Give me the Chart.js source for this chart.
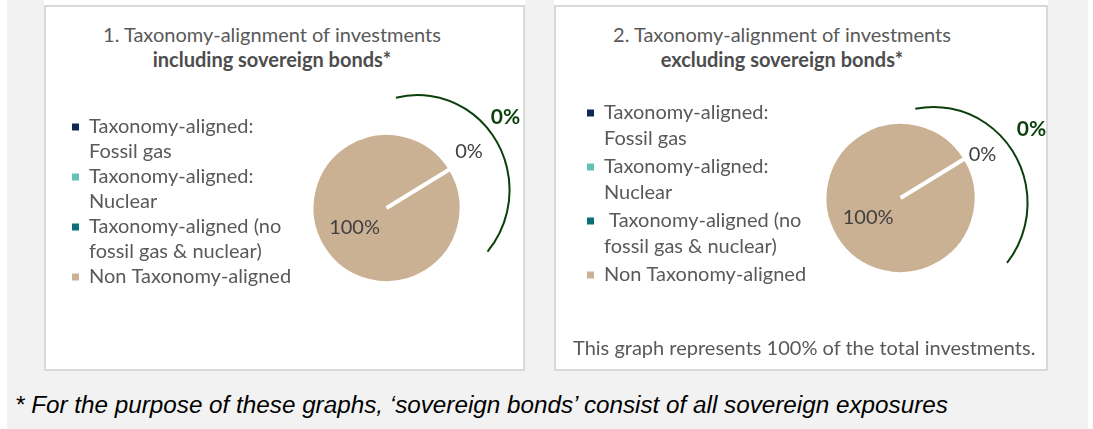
<!DOCTYPE html>
<html>
<head>
<meta charset="utf-8">
<script src="https://cdn.jsdelivr.net/npm/chart.js@4.4.1/dist/chart.umd.min.js"></script>
<style>
  html, body { margin:0; padding:0; background:#ffffff; width:1093px; height:429px; overflow:hidden; }
  #bg { position:absolute; left:7px; top:0; width:1081px; height:429px; background:#f2f2f2; }
  .panel { position:absolute; top:5px; height:366px; background:#ffffff; box-sizing:border-box; border:2px solid #d9d9d9; }
  .cap { position:absolute; top:0; height:5px; background:#ffffff; }
  canvas { position:absolute; }
  .title { position:absolute; width:400px; text-align:center; font-family:Lato, sans-serif; font-size:20px; line-height:25px; color:#595959; }
  .title b { color:#4d4d4d; }
  .note { position:absolute; font-family:Lato, sans-serif; font-size:20px; line-height:25px; color:#595959; white-space:nowrap; }
  #foot { position:absolute; left:15px; top:391px; font-family:"Liberation Sans", Arial, sans-serif; font-style:italic; font-size:24.25px; line-height:28px; color:#000; white-space:nowrap; }
</style>
</head>
<body>
<div id="bg"></div>
<div class="cap" style="left:44px;width:481px"></div>
<div class="cap" style="left:554px;width:494px"></div>
<div class="panel" style="left:44px;width:481px"></div>
<div class="panel" style="left:554px;width:494px"></div>
<div class="title" style="left:72px;top:22px">1. Taxonomy-alignment of investments<br><b>including sovereign bonds*</b></div>
<div class="title" style="left:582px;top:22px">2. Taxonomy-alignment of investments<br><b>excluding sovereign bonds*</b></div>
<canvas id="c1" width="481" height="366" style="left:44px;top:5px"></canvas>
<canvas id="c2" width="494" height="366" style="left:554px;top:5px"></canvas>
<div class="note" id="note" style="left:573px;top:335px">This graph represents 100% of the total investments.</div>
<div id="foot">* For the purpose of these graphs, ‘sovereign bonds’ consist of all sovereign exposures</div>
<script>
// ---- data ----
const categories1 = [
  ["Taxonomy-aligned:", "Fossil gas"],
  ["Taxonomy-aligned:", "Nuclear"],
  ["Taxonomy-aligned (no", "fossil gas & nuclear)"],
  "Non Taxonomy-aligned"
];
const categories2 = [
  ["Taxonomy-aligned:", "Fossil gas"],
  ["Taxonomy-aligned:", "Nuclear"],
  [" Taxonomy-aligned (no", "fossil gas & nuclear)"],
  "Non Taxonomy-aligned"
];
const valuesInclSovereign = [0, 0, 0, 100];
const valuesExclSovereign = [0, 0, 0, 100];
const alignedIndices = [0, 1, 2];

// ---- styles ----
const sliceColors = ["#0e2a52", "#62c2b5", "#0b6e78", "#cbb194"];
const labelColor = "#404040";
const greenColor = "#0b3f0b";

Chart.defaults.font.family = "Lato, sans-serif";
const baseGenerate = Chart.overrides.pie.plugins.legend.labels.generateLabels;

const pieLabelsPlugin = {
  id: "pieLabels",
  afterDatasetsDraw(chart) {
    const cfg = chart.options.plugins.pieLabels;
    const meta = chart.getDatasetMeta(0);
    const values = chart.data.datasets[0].data;
    const ctx = chart.ctx;
    ctx.save();
    ctx.textAlign = "center";
    ctx.textBaseline = "middle";
    ctx.font = "20px Lato, sans-serif";
    ctx.fillStyle = labelColor;
    const drawn = new Set();
    meta.data.forEach((arc, i) => {
      const v = values[i];
      let x, y;
      if (v === 0) {
        const a = arc.startAngle + cfg.zeroAngleShift * Math.PI / 180;
        x = arc.x + Math.cos(a) * cfg.zeroDist;
        y = arc.y + Math.sin(a) * cfg.zeroDist;
      } else {
        const p = arc.tooltipPosition();
        x = p.x; y = p.y;
      }
      const key = Math.round(x) + "," + Math.round(y);
      if (drawn.has(key)) return;
      drawn.add(key);
      ctx.fillText(v + "%", x, y);
    });
    // bracket arc showing the total taxonomy-aligned share
    const c = meta.data[0];
    const ax = c.x + cfg.arcDx, ay = c.y + cfg.arcDy;
    ctx.strokeStyle = greenColor;
    ctx.lineWidth = 2;
    ctx.beginPath();
    ctx.ellipse(ax, ay, cfg.arcRx, cfg.arcRy, 0, cfg.arcStart * Math.PI / 180, cfg.arcEnd * Math.PI / 180);
    ctx.stroke();
    const total = alignedIndices.reduce((s, k) => s + values[k], 0);
    ctx.font = "bold 21px Lato, sans-serif";
    ctx.fillStyle = greenColor;
    ctx.fillText(total + "%", ax + cfg.totalDx, ay + cfg.totalDy);
    ctx.restore();
  }
};

function makeChart(id, labels, values, lay, deco) {
  return new Chart(document.getElementById(id), {
    type: "pie",
    data: {
      labels: labels,
      datasets: [{
        data: values,
        backgroundColor: sliceColors,
        borderColor: "#ffffff",
        borderWidth: [0, 0, 0, 4],
        radius: lay.radius
      }]
    },
    options: {
      responsive: false,
      devicePixelRatio: 1,
      animation: false,
      rotation: 58.5,
      layout: { padding: lay.padding },
      plugins: {
        tooltip: { enabled: false },
        legend: {
          position: "left",
          align: "start",
          maxWidth: 320,
          labels: {
            boxWidth: 7,
            boxHeight: 7,
            padding: lay.legendPadding,
            color: "#595959",
            font: { size: 20, lineHeight: lay.lineHeight },
            generateLabels(chart) {
              return baseGenerate(chart).map(it => Object.assign(it, { lineWidth: 0, strokeStyle: it.fillStyle }));
            }
          }
        },
        pieLabels: deco
      }
    },
    plugins: [pieLabelsPlugin]
  });
}

makeChart("c1", categories1, valuesInclSovereign,
  { radius: 75, padding: { left: 28, top: 112, right: 53, bottom: 72 }, legendPadding: 0, lineHeight: 25 / 20 },
  { zeroDist: 100, zeroAngleShift: -3, arcDx: 31, arcDy: -18, arcRx: 92, arcRy: 95, arcStart: -103.6, arcEnd: 40.5, totalDx: 88, totalDy: -73 });

makeChart("c2", categories2, valuesExclSovereign,
  { radius: 76, padding: { left: 30, top: 95, right: 63, bottom: 75 }, legendPadding: 3, lineHeight: 25.5 / 20 },
  { zeroDist: 93, zeroAngleShift: 3.3, arcDx: 33, arcDy: 5, arcRx: 94, arcRy: 96, arcStart: -101.2, arcEnd: 38.6, totalDx: 98, totalDy: -74 });
</script>
</body>
</html>
